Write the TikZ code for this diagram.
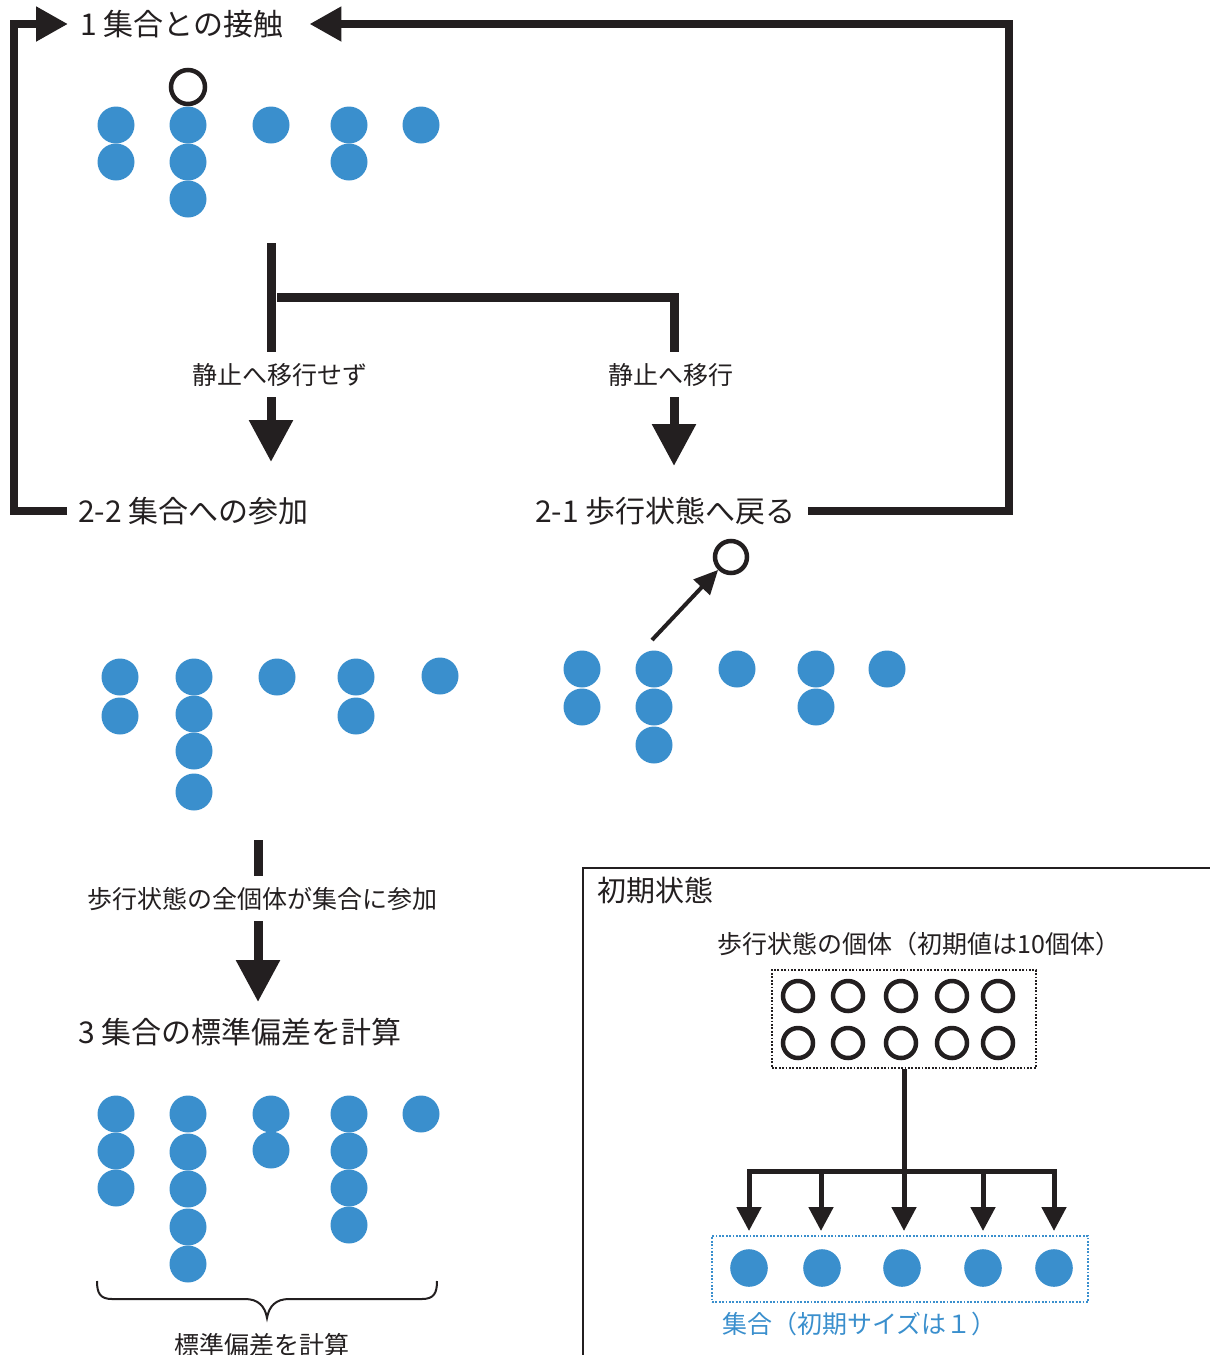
\documentclass[tikz,border=0pt]{standalone}
\usepackage{fontspec}
\setmainfont{Noto Sans CJK JP}
\usetikzlibrary{arrows.meta}
\definecolor{ink}{HTML}{231F20}
\definecolor{dotblue}{HTML}{3A8FCD}
\begin{document}
\begin{tikzpicture}[x=1pt,y=-1pt,
  every node/.style={inner sep=0pt,text=ink},
  steplabel/.style={font=\fontsize{30}{35}\selectfont,anchor=west},
  caption/.style={font=\fontsize{25}{30}\selectfont},
  loopline/.style={draw=ink,line width=8pt,line join=miter},
  loophead/.style={-{Triangle[length=32pt,width=33pt]}},
  bigarrow/.style={draw=ink,line width=9pt,-{Triangle[length=42pt,width=42pt]}},
  branch/.style={draw=ink,line width=9pt,line join=miter},
  walker/.style={circle,draw=ink,line width=4.5pt,minimum size=#1},
  walker/.default=34pt,
  stem/.style={draw=ink,line width=5pt,line join=miter},
  smallarrow/.style={draw=ink,line width=5pt,-{Triangle[length=24pt,width=24pt]}},
  dotbox/.style={draw=#1,line width=2pt,dash pattern=on 1.8pt off 1.6pt,rectangle},
]
\useasboundingbox (0,0) rectangle (1210,1355);

% ---------- step labels ----------
\node[steplabel] (t1)  at (80,24)  {1 集合との接触};
\node[steplabel] (t22) at (78,511) {2-2 集合への参加};
\node[steplabel] (t21) at (535,511) {2-1 歩行状態へ戻る};
\node[steplabel] (t3) at (78,1032) {3 集合の標準偏差を計算};

% ---------- main loop ----------
\draw[loopline,loophead] ([xshift=-11pt]t22.west) -| (14,24) -- ([xshift=-12pt]t1.west);
\draw[loopline,loophead] ([xshift=12pt]t21.east) -| (1009,24) -- ([xshift=26pt]t1.east);

% ---------- stage 1: contact with the group ----------
\foreach \x/\y in {116/125,116/162,188/125,188/162,188/199,271/125,349/125,349/162,421/125}
  \fill[dotblue] (\x,\y) circle (18.5pt);
\node[walker] (w1) at (188,87) {};

% ---------- branch: stop or keep walking ----------
\coordinate (br-top) at (271,243);
\coordinate (br-mid) at (271,297);
\coordinate (br-end) at (674,352);
\draw[branch] (br-top) -- (271,352);
\draw[branch] ([xshift=6pt]br-mid) -| (br-end);
\node[caption] (nostop) at (280,375) {静止へ移行せず};
\node[caption] (stop)   at (671,375) {静止へ移行};
\draw[bigarrow] (271,397) -- (271,462);
\draw[bigarrow] (674,397) -- (674,466);

% ---------- stage 2-2: join the group ----------
\foreach \x/\y in {120/677,120/716,194/677,194/714,194/751,194/792,277/677,356/677,356/716,440/676}
  \fill[dotblue] (\x,\y) circle (18.5pt);

% ---------- stage 2-1: leave and walk again ----------
\foreach \x/\y in {582/669,582/707,654/669,654/707,654/745,737/669,816/669,816/707,887/669}
  \fill[dotblue] (\x,\y) circle (18.5pt);
\node[walker=32pt] (w2) at (731,557) {};
\coordinate (leave) at (652,640);
\draw[draw=ink,line width=4pt,-{Triangle[length=24pt,width=22pt]}] (leave) -- (w2.south west);

% ---------- all walkers joined ----------
\draw[branch] (258,840) -- (258,876);
\node[caption] (alljoin) at (262,899) {歩行状態の全個体が集合に参加};
\draw[bigarrow] (258,921) -- (258,1002);

% ---------- stage 3: standard deviation ----------
\foreach \x/\y in {116/1114,116/1151,116/1188,188/1114,188/1152,188/1189,188/1227,188/1264,
                   271/1114,271/1150,349/1114,349/1151,349/1188,349/1225,421/1114}
  \fill[dotblue] (\x,\y) circle (18.5pt);
\draw[ink,line width=2pt]
  (97,1281) .. controls (97,1293) and (100,1299) .. (112,1299) -- (245,1299)
  .. controls (258,1299) and (265,1306) .. (267,1318)
  .. controls (269,1306) and (276,1299) .. (289,1299) -- (422,1299)
  .. controls (434,1299) and (437,1293) .. (437,1281);
\node[caption] (sd) at (262,1345) {標準偏差を計算};

% ---------- initial state panel ----------
\draw[ink,line width=2pt] (583,1360) -- (583,868) -- (1215,868);
\node[font=\fontsize{29}{34}\selectfont,anchor=west] (init) at (597,890) {初期状態};
\node[caption] (walklab) at (919,944) {歩行状態の個体（初期値は10個体）};
\node[dotbox=ink,minimum width=264pt,minimum height=98pt] (walkbox) at (904,1019) {};
\foreach \x in {798,848,901,952,998}
  \foreach \y in {996,1043}
    \node[walker=30pt] at (\x,\y) {};
\coordinate (split) at (904,1171);
\draw[stem] (walkbox.south -| split) -- (split);
\draw[stem] (747,1171) -- (1057,1171);
\node[dotbox=dotblue,minimum width=376pt,minimum height=66pt] (groupbox) at (900,1269) {};
\foreach \x in {749,821,904,983,1054}
  \draw[smallarrow] (\x,1171) -- (\x,1231);
\foreach \x in {749,822,902,983,1054}
  \fill[dotblue] (\x,1268) circle (18.8pt);
\node[caption,text=dotblue,anchor=west] (grouplab) at (722,1324) {集合（初期サイズは１）};
\end{tikzpicture}
\end{document}
